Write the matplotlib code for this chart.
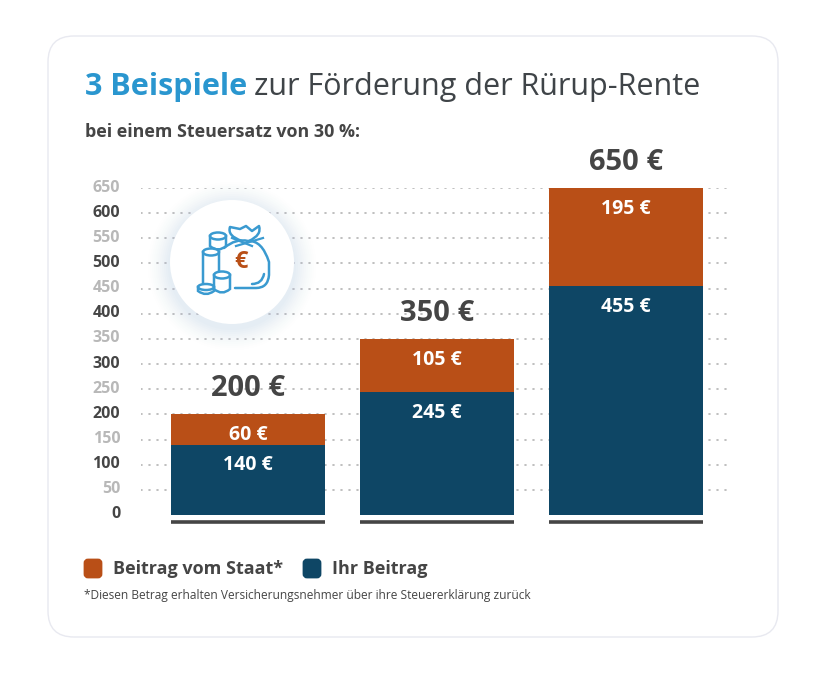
import matplotlib
matplotlib.use("Agg")
import matplotlib.pyplot as plt
from matplotlib.patches import Circle, Ellipse, FancyBboxPatch, PathPatch
from matplotlib.path import Path
from matplotlib.transforms import ScaledTranslation

W, H = 827, 673
orange = "#b94f17"
navy = "#0e4665"
dark = "#454545"
grey = "#b8b8b8"
blue = "#2a96cf"
icon_blue = "#3a9ad0"

categories = ["Beispiel 1", "Beispiel 2", "Beispiel 3"]
ihr_beitrag = [140, 245, 455]
beitrag_staat = [60, 105, 195]
totals = [200, 350, 650]
y_ticks = list(range(0, 700, 50))
legend_labels = ["Beitrag vom Staat*", "Ihr Beitrag"]

plt.rcParams["font.family"] = ["Open Sans", "DejaVu Sans"]

fig = plt.figure(figsize=(W / 100, H / 100), dpi=100, facecolor="white")


def px_axes(zorder):
    a = fig.add_axes([0, 0, 1, 1], zorder=zorder)
    a.set_xlim(0, W)
    a.set_ylim(H, 0)
    a.axis("off")
    return a


# card and headings
bg = px_axes(0)
bg.add_patch(FancyBboxPatch((48, 36), 730, 601, boxstyle="round,pad=0,rounding_size=26",
                            fc="white", ec="#e8e9f0", lw=1.0))
bg.text(85, 87, "3 Beispiele", color=blue, fontsize=22, fontweight="bold", va="center")
bg.text(254, 87, "zur Förderung der Rürup-Rente", color="#3f4448", fontsize=22, va="center")
bg.text(85, 132, "bei einem Steuersatz von 30 %:", color=dark, fontsize=12.9, fontweight="bold", va="center")

# chart
ax = fig.add_axes([141 / W, 1 - 515 / H, 592 / W, 327 / H], zorder=1)
ax.patch.set_alpha(0)
x = list(range(len(categories)))
ax.bar(x, ihr_beitrag, width=0.815, color=navy, zorder=3)
ax.bar(x, beitrag_staat, width=0.815, bottom=ihr_beitrag, color=orange, zorder=3)
ax.set_xlim(-0.566, 2.566)
ax.set_ylim(0, 650)
ax.set_yticks(y_ticks)
ax.set_yticklabels([str(v) for v in y_ticks], fontsize=11.5, fontweight="bold")
ax.set_xticks([])
ax.tick_params(axis="y", length=0, pad=15)
shift = ScaledTranslation(0, 2.5 / 100, fig.dpi_scale_trans)
for lab, v in zip(ax.get_yticklabels(), y_ticks):
    lab.set_color(dark if v % 100 == 0 else grey)
    lab.set_transform(lab.get_transform() + shift)
for s in ax.spines.values():
    s.set_visible(False)
ax.grid(axis="y", color="#b4b4b4", lw=1.2, linestyle=(0, (0.6, 4.2)), dash_capstyle="round", zorder=1)
ax.get_ygridlines()[0].set_visible(False)
ax.set_axisbelow(True)
for i in x:
    ax.plot([i - 0.4075, i + 0.4075], [-13, -13], color=dark, lw=2.6, clip_on=False, solid_capstyle="butt")

for i in x:
    ax.annotate(f"{ihr_beitrag[i]} €", (i, ihr_beitrag[i]), xytext=(0, -15), textcoords="offset points",
                ha="center", va="center", color="white", fontsize=14, fontweight="bold", zorder=4)
    ax.annotate(f"{beitrag_staat[i]} €", (i, totals[i]), xytext=(0, -15), textcoords="offset points",
                ha="center", va="center", color="white", fontsize=14, fontweight="bold", zorder=4)
    ax.annotate(f"{totals[i]} €", (i, totals[i]), xytext=(0, 18.5), textcoords="offset points",
                ha="center", va="center", color=dark, fontsize=21, fontweight="bold",
                annotation_clip=False, zorder=4)

# icon on top of the grid
top = px_axes(2)
for r, al in zip(range(84, 62, -2), [0.012, 0.015, 0.018, 0.02, 0.025, 0.03, 0.035, 0.04, 0.045, 0.05, 0.055]):
    top.add_patch(Circle((232, 266), r, fc="#b9cbe8", ec="none", alpha=al))
top.add_patch(Circle((232, 262), 62, fc="white", ec="none"))

ic = dict(fc="white", ec=icon_blue, lw=1.8)


def cylinder(cx, ytop, ybot, rx=8, ry=3.5):
    verts = [(cx - rx, ytop), (cx - rx, ybot), (cx, ybot + 2 * ry), (cx + rx, ybot), (cx + rx, ytop)]
    codes = [Path.MOVETO, Path.LINETO, Path.CURVE3, Path.CURVE3, Path.LINETO]
    top.add_patch(PathPatch(Path(verts + [(cx - rx, ytop)], codes + [Path.CLOSEPOLY]), **ic))
    top.add_patch(Ellipse((cx, ytop), 2 * rx, 2 * ry, **ic))


# bag body and neck
bag = Path([(224, 248), (236, 238), (248, 241), (262, 240), (269, 262), (269, 275), (268, 288), (256, 288), (235, 288)],
           [Path.MOVETO, Path.CURVE3, Path.CURVE3, Path.CURVE3, Path.CURVE3, Path.LINETO, Path.CURVE3, Path.CURVE3, Path.LINETO])
top.add_patch(PathPatch(bag, fc="none", ec=icon_blue, lw=1.8, capstyle="round"))
knot = Path([(242, 241), (227, 236), (230, 227), (240, 229), (246, 226), (252, 231), (259, 226), (262, 235), (249, 241)],
            [Path.MOVETO, Path.CURVE3, Path.CURVE3, Path.LINETO, Path.LINETO, Path.LINETO, Path.LINETO, Path.CURVE3, Path.CURVE3])
top.add_patch(PathPatch(knot, fc="none", ec=icon_blue, lw=1.8, joinstyle="round"))
top.plot([236, 263], [246, 238], color=icon_blue, lw=1.6)
top.plot([232, 252], [238, 246], color=icon_blue, lw=1.6)
tail = Path([(252, 284), (262, 284), (264, 274)], [Path.MOVETO, Path.CURVE3, Path.CURVE3])
top.add_patch(PathPatch(tail, fc="none", ec=icon_blue, lw=1.8, capstyle="round"))
cylinder(218, 236, 246)
cylinder(211, 252, 284)
cylinder(222, 275, 289)
cylinder(206, 287, 291, ry=3)
top.text(241, 262, "€", color=orange, fontsize=17, fontweight="bold", ha="center", va="center")

# legend and footnote
for px, col, lab in zip([83, 302], [orange, navy], legend_labels):
    top.add_patch(FancyBboxPatch((px + 2, 560), 16, 17, boxstyle="round,pad=0,rounding_size=3",
                                 fc=col, ec=col, lw=2))
    top.text(px + 30, 569, lab, color=dark, fontsize=13, fontweight="bold", va="center")
top.text(84, 596, "*Diesen Betrag erhalten Versicherungsnehmer über ihre Steuererklärung zurück",
         color=dark, fontsize=8.55, va="center")

fig.savefig("out.png", dpi=100)
